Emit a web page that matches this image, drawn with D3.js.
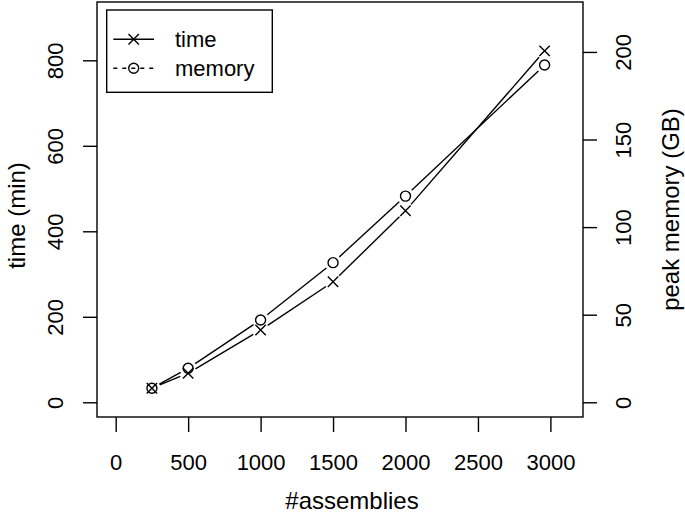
<!DOCTYPE html>
<html>
<head>
<meta charset="utf-8">
<script src="https://cdn.jsdelivr.net/npm/d3@7"></script>
<style>
    body { margin: 0; background: #fff; }
    text { font-family: "Liberation Sans", Arial, sans-serif; fill: #000; }
</style>
</head>
<body>
<svg id="chart" width="685" height="517"></svg>
<script>
// values
const assemblies = [250, 500, 1000, 1500, 2000, 2960];
const timeMin = [33, 68, 169, 282, 448, 822];
const memoryGB = [8, 19.4, 47, 79.7, 117.7, 192.5];

const xTicks = [0, 500, 1000, 1500, 2000, 2500, 3000];
const timeTicks = [0, 200, 400, 600, 800];
const memTicks = [0, 50, 100, 150, 200];

const box = { left: 97, right: 583, top: 2, bottom: 417 };
const fontSize = 22;
const titleSize = 24;
const lw = 1.4;

const svg = d3.select("#chart");

const x = d3.scaleLinear().domain([-129, 3225]).range([box.left, box.right]);
const yTime = d3.scaleLinear().domain([-34.4, 936.4]).range([box.bottom, box.top]);
const yMem = d3.scaleLinear().domain([-8.4, 228.5]).range([box.bottom, box.top]);

// plot frame
svg.append("rect")
    .attr("x", box.left)
    .attr("y", box.top)
    .attr("width", box.right - box.left)
    .attr("height", box.bottom - box.top)
    .attr("fill", "none")
    .attr("stroke", "#000")
    .attr("stroke-width", lw);

function styleAxis(g) {
    g.select(".domain").remove();
    g.selectAll(".tick line").attr("stroke", "#000").attr("stroke-width", lw);
    g.selectAll(".tick text")
        .style("font-size", fontSize + "px")
        .style("font-family", '"Liberation Sans", Arial, sans-serif')
        .attr("fill", "#000");
}

// x axis
svg.append("g")
    .attr("transform", `translate(0,${box.bottom})`)
    .call(d3.axisBottom(x).tickValues(xTicks).tickSize(15).tickPadding(22).tickFormat(d3.format("d")))
    .call(styleAxis);

// left axis (rotated labels)
const gl = svg.append("g")
    .attr("transform", `translate(${box.left},0)`)
    .call(d3.axisLeft(yTime).tickValues(timeTicks).tickSize(14).tickFormat(d3.format("d")))
    .call(styleAxis);
gl.selectAll(".tick text")
    .attr("x", null).attr("dy", null)
    .attr("text-anchor", "middle")
    .attr("transform", "translate(-40,0) rotate(-90)")
    .attr("dominant-baseline", "middle")
    .attr("y", 0);

// right axis (rotated labels)
const gr = svg.append("g")
    .attr("transform", `translate(${box.right},0)`)
    .call(d3.axisRight(yMem).tickValues(memTicks).tickSize(14).tickFormat(d3.format("d")))
    .call(styleAxis);
gr.selectAll(".tick text")
    .attr("x", null).attr("dy", null)
    .attr("text-anchor", "middle")
    .attr("transform", "translate(42,0) rotate(-90)")
    .attr("dominant-baseline", "middle")
    .attr("y", 0);

// axis titles
const midY = (box.top + box.bottom) / 2;
svg.append("text")
    .attr("x", (box.left + box.right) / 2 + 12)
    .attr("y", 509)
    .attr("text-anchor", "middle")
    .style("font-size", titleSize + "px")
    .text("#assemblies");
svg.append("text")
    .attr("transform", `translate(25,${midY + 6}) rotate(-90)`)
    .attr("text-anchor", "middle")
    .style("font-size", titleSize + "px")
    .text("time (min)");
svg.append("text")
    .attr("transform", `translate(679,${midY}) rotate(-90)`)
    .attr("text-anchor", "middle")
    .style("font-size", titleSize + "px")
    .text("peak memory (GB)");

// type = "b": segments with a gap around each point
function gappedSegments(pts, gap) {
    const segs = [];
    for (let i = 0; i < pts.length - 1; i++) {
        const [x1, y1] = pts[i], [x2, y2] = pts[i + 1];
        const len = Math.hypot(x2 - x1, y2 - y1);
        if (len <= 2 * gap) continue;
        const ux = (x2 - x1) / len, uy = (y2 - y1) / len;
        segs.push([x1 + ux * gap, y1 + uy * gap, x2 - ux * gap, y2 - uy * gap]);
    }
    return segs;
}

function drawSeries(vals, yScale, shape) {
    const pts = assemblies.map((a, i) => [x(a), yScale(vals[i])]);
    const g = svg.append("g");
    g.selectAll("line")
        .data(gappedSegments(pts, 8.5))
        .enter()
        .append("line")
        .attr("x1", (d) => d[0]).attr("y1", (d) => d[1])
        .attr("x2", (d) => d[2]).attr("y2", (d) => d[3])
        .attr("stroke", "#000")
        .attr("stroke-width", lw);
    pts.forEach((p) => shape(g, p[0], p[1]));
}

function cross(g, cx, cy) {
    const r = 5.2;
    g.append("path")
        .attr("d", `M${cx - r},${cy - r}L${cx + r},${cy + r}M${cx - r},${cy + r}L${cx + r},${cy - r}`)
        .attr("stroke", "#000")
        .attr("stroke-width", lw)
        .attr("fill", "none");
}

function circle(g, cx, cy) {
    g.append("circle")
        .attr("cx", cx).attr("cy", cy).attr("r", 5)
        .attr("stroke", "#000")
        .attr("stroke-width", lw)
        .attr("fill", "none");
}

drawSeries(timeMin, yTime, cross);
drawSeries(memoryGB, yMem, circle);

// legend
const legend = svg.append("g");
legend.append("rect")
    .attr("x", 106.7).attr("y", 10)
    .attr("width", 165.6).attr("height", 82.3)
    .attr("fill", "#fff")
    .attr("stroke", "#000")
    .attr("stroke-width", lw);
const legendItems = [
    { label: "time", y: 39.3, dash: null, shape: cross },
    { label: "memory", y: 68.3, dash: "4,5", shape: circle },
];
legendItems.forEach((it) => {
    legend.append("line")
        .attr("x1", 113.3).attr("x2", 154)
        .attr("y1", it.y).attr("y2", it.y)
        .attr("stroke", "#000")
        .attr("stroke-width", lw)
        .attr("stroke-dasharray", it.dash);
    it.shape(legend, 133.7, it.y);
    legend.append("text")
        .attr("x", 175)
        .attr("y", it.y)
        .attr("dy", "0.36em")
        .style("font-size", fontSize + "px")
        .text(it.label);
});
</script>
</body>
</html>
